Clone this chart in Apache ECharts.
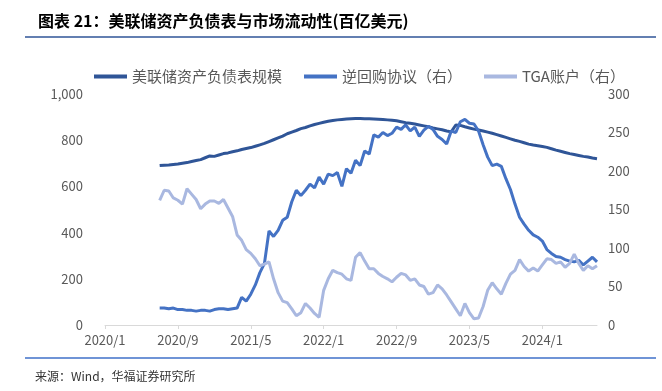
<!DOCTYPE html>
<html>
<head>
<meta charset="utf-8">
<script src="https://cdn.jsdelivr.net/npm/echarts@6/dist/echarts.min.js"></script>
<style>
  html, body { margin: 0; padding: 0; background: #fff; }
  #chart { width: 662px; height: 391px; }
</style>
</head>
<body>
<div id="chart"></div>
<script>
// 半月一个点, 2020/1 - 2024/7
var months = []
for (var y = 2020; y <= 2024; y++) {
  for (var m = 1; m <= 12; m++) {
    if (y === 2024 && m > 7) break
    months.push(y + '/' + m)
    if (!(y === 2024 && m === 7)) months.push(y + '/' + m + '/16')
  }
}
var startIdx = 12 // 数据从2020/7开始

// 美联储资产负债表规模(百亿美元, 左轴)
var fedBalance = [
  690, 692, 693, 695, 697, 700, 703, 708, 712, 716, 724, 732, 730, 736, 742, 745,
  750, 754, 760, 764, 768, 774, 780, 786, 794, 802, 810, 818, 828, 835, 842, 850,
  855, 862, 868, 873, 878, 882, 885, 888, 890, 892, 893, 894, 894, 893, 893, 892,
  891, 890, 888, 886, 884, 880, 876, 873, 870, 866, 862, 858, 853, 849, 845, 840,
  836, 866, 864, 858, 853, 848, 844, 840, 835, 830, 824, 818, 812, 806, 800, 795,
  789, 783, 779, 776, 773, 769, 763, 757, 752, 747, 742, 738, 734, 730, 727, 723,
  720
]
// 逆回购协议(右轴)
var reverseRepo = [
  22, 22, 21, 22, 20, 20, 19, 19, 18, 19, 19, 18, 20, 21, 21, 20,
  21, 22, 36, 31, 40, 52, 68, 80, 122, 115, 123, 136, 140, 160, 175, 168,
  175, 183, 178, 192, 183, 196, 194, 198, 180, 203, 197, 214, 207, 226, 222, 247,
  244, 250, 246, 249, 257, 254, 260, 252, 257, 245, 253, 258, 254, 245, 241, 235,
  252, 250, 264, 267, 262, 261, 252, 234, 218, 207, 209, 206, 190, 176, 157, 140,
  131, 123, 117, 114, 109, 98, 93, 89, 88, 85, 83, 82, 84, 78, 83, 88,
  82
]
// TGA账户(右轴)
var tgaAccount = [
  162, 175, 174, 165, 162, 157, 177, 170, 163, 151, 157, 161, 161, 158, 163, 152,
  141, 117, 110, 98, 93, 86, 77, 79, 82, 60, 42, 31, 29, 21, 12, 16,
  28, 22, 15, 10, 45, 60, 71, 68, 66, 60, 58, 88, 94, 83, 73, 73,
  67, 63, 60, 56, 62, 67, 65, 58, 60, 52, 50, 40, 42, 52, 47, 39,
  30, 21, 12, 28, 16, 8, 9, 24, 45, 55, 47, 40, 54, 66, 71, 85,
  76, 70, 74, 70, 78, 86, 85, 80, 82, 75, 80, 92, 80, 71, 77, 73,
  77
]
var leftTicks = [0, 1000, 200]
var rightTicks = [0, 300, 50]

function pad(arr) {
  var out = []
  for (var i = 0; i < startIdx; i++) out.push(null)
  return out.concat(arr)
}

var font = 'Noto Sans CJK SC'
var labelColor = '#595959'
var chart = echarts.init(document.getElementById('chart'))
var option = {
  backgroundColor: '#fff',
  animation: false,
  title: {
    text: '图表 21：美联储资产负债表与市场流动性(百亿美元)',
    left: 33,
    top: 8,
    textStyle: { fontFamily: font, fontSize: 16, fontWeight: 'bold', color: '#000' }
  },
  legend: {
    top: 64,
    left: 89,
    itemWidth: 33,
    itemHeight: 4,
    itemGap: 22,
    icon: 'rect',
    textStyle: { fontFamily: font, fontSize: 15, color: labelColor },
    data: ['美联储资产负债表规模', '逆回购协议（右）', 'TGA账户（右）']
  },
  grid: { left: 105, right: 65, top: 94, bottom: 66, containLabel: false },
  xAxis: {
    type: 'category',
    boundaryGap: false,
    data: months,
    axisLine: { lineStyle: { color: '#D9D9D9', width: 1 } },
    axisTick: { show: true, interval: 15, length: 4, lineStyle: { color: '#D9D9D9' } },
    axisLabel: { interval: 15, fontFamily: font, fontSize: 13, color: labelColor, margin: 9 },
    splitLine: { show: false }
  },
  yAxis: [
    {
      type: 'value',
      min: leftTicks[0], max: leftTicks[1], interval: leftTicks[2],
      axisLine: { show: false },
      axisTick: { show: false },
      splitLine: { show: false },
      axisLabel: {
        fontFamily: font, fontSize: 13, color: labelColor, margin: 22,
        formatter: function (v) { return v.toLocaleString('en-US') }
      }
    },
    {
      type: 'value',
      min: rightTicks[0], max: rightTicks[1], interval: rightTicks[2],
      axisLine: { show: false },
      axisTick: { show: false },
      splitLine: { show: false },
      axisLabel: { fontFamily: font, fontSize: 13, color: labelColor, margin: 11 }
    }
  ],
  series: [
    {
      name: '美联储资产负债表规模',
      type: 'line',
      yAxisIndex: 0,
      symbol: 'none',
      lineStyle: { width: 3, color: '#2F5597' },
      itemStyle: { color: '#2F5597' },
      data: pad(fedBalance)
    },
    {
      name: '逆回购协议（右）',
      type: 'line',
      yAxisIndex: 1,
      symbol: 'none',
      lineStyle: { width: 3, color: '#4472C4' },
      itemStyle: { color: '#4472C4' },
      data: pad(reverseRepo)
    },
    {
      name: 'TGA账户（右）',
      type: 'line',
      yAxisIndex: 1,
      symbol: 'none',
      lineStyle: { width: 3, color: '#A9B8E0' },
      itemStyle: { color: '#A9B8E0' },
      data: pad(tgaAccount)
    }
  ],
  graphic: [
    {
      type: 'line',
      shape: { x1: 25, y1: 37, x2: 656, y2: 37 },
      style: { stroke: '#2F5597', lineWidth: 1.5 }
    },
    {
      type: 'line',
      shape: { x1: 25, y1: 358, x2: 656, y2: 358 },
      style: { stroke: '#6F94D6', lineWidth: 2 }
    },
    {
      type: 'text',
      left: 35,
      top: 370,
      style: { text: '来源：Wind，华福证券研究所', fontFamily: font, fontSize: 12, fill: '#333' }
    }
  ]
}
chart.setOption(option)
</script>
</body>
</html>
